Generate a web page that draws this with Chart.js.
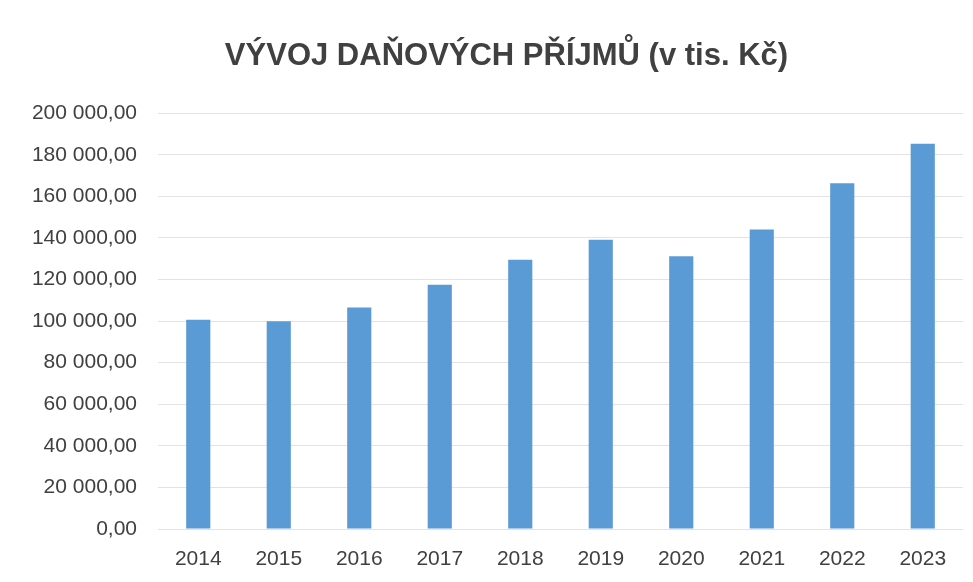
<!DOCTYPE html>
<html lang="cs">
<head>
<meta charset="utf-8">
<title>Vývoj daňových příjmů</title>
<script src="https://cdn.jsdelivr.net/npm/chart.js@4"></script>
<style>
  html, body { margin: 0; padding: 0; background: #fff; }
  #wrap { width: 973px; height: 582px; }
</style>
</head>
<body>
<div id="wrap"><canvas id="prijmy"></canvas></div>
<script>
// roky a daňové příjmy (v tis. Kč)
const years = ['2014', '2015', '2016', '2017', '2018', '2019', '2020', '2021', '2022', '2023'];
const revenues = [100700, 99900, 106600, 117500, 129500, 139100, 131200, 144100, 166300, 185300];
const yMin = 0;
const yMax = 200000;
const yStep = 20000;

// "200 000,00"
function formatCz(v) {
    const parts = Math.round(v).toString().replace(/\B(?=(\d{3})+(?!\d))/g, ' ');
    return parts + ',00';
}

const textColor = '#404040';
const ctx = document.getElementById('prijmy').getContext('2d');

// nadpis je v originále mírně posunutý doprava
const shiftTitle = {
    id: 'shiftTitle',
    afterLayout(chart) {
        if (chart.titleBlock) {
            chart.titleBlock.left += 50;
        }
    }
};

const chart = new Chart(ctx, {
    type: 'bar',
    data: {
        labels: years,
        datasets: [
        {
            label: 'Daňové příjmy',
            data: revenues,
            backgroundColor: '#5b9bd5',
            borderWidth: 0,
            categoryPercentage: 1.0,
            barPercentage: 0.3,
        }
        ]
    },
    plugins: [shiftTitle],
    options: {
        responsive: true,
        maintainAspectRatio: false,
        animation: false,
        layout: {
            padding: { left: 0, right: 10, top: 0, bottom: 0 }
        },
        plugins: {
            legend: { display: false },
            tooltip: { enabled: false },
            title: {
                display: true,
                text: 'VÝVOJ DAŇOVÝCH PŘÍJMŮ (v tis. Kč)',
                color: textColor,
                font: { family: 'Liberation Sans', size: 31, weight: 'bold' },
                padding: { top: 38, bottom: 38 }
            }
        },
        scales: {
            x: {
                grid: { display: false, drawTicks: false },
                border: { display: false },
                ticks: {
                    color: textColor,
                    padding: 18,
                    font: { family: 'Liberation Sans', size: 21 }
                },
                afterFit(scale) { scale.height = 53; }
            },
            y: {
                min: yMin,
                max: yMax,
                grid: { color: '#e3e3e3', drawTicks: false },
                border: { display: false },
                ticks: {
                    stepSize: yStep,
                    color: textColor,
                    padding: 21,
                    font: { family: 'Liberation Sans', size: 21 },
                    callback: v => formatCz(v)
                },
                afterFit(scale) { scale.width = 158; }
            }
        }
    }
});
</script>
</body>
</html>
